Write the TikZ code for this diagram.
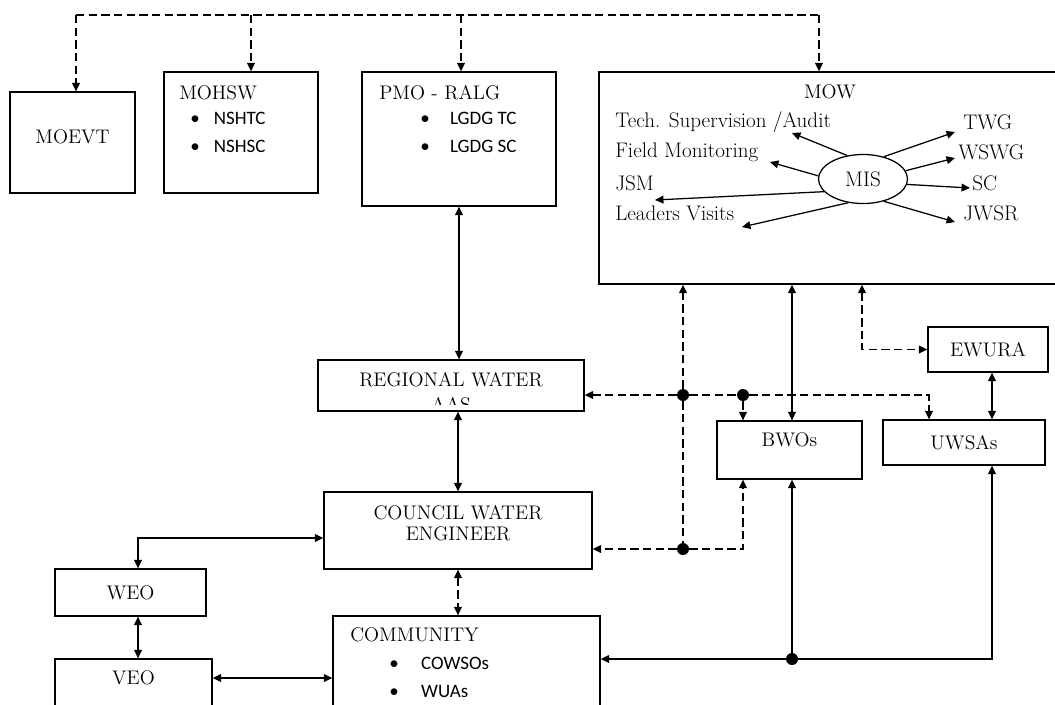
\documentclass[tikz,border=0pt]{standalone}
\usepackage{fontspec}
\newfontfamily\calibri{Carlito}
\usepackage{tikz}
\usetikzlibrary{arrows.meta, shapes.geometric, positioning, calc}

\begin{document}
\begin{tikzpicture}[x=0.025cm, y=-0.025cm,
    box/.style={draw, line width=0.9pt, inner sep=0pt},
    txt/.style={inner sep=0pt, font=\fontsize{14}{15}\selectfont, align=center},
    mtxt/.style={inner sep=0pt, anchor=west, font=\fontsize{15}{16}\selectfont},
    sml/.style={inner sep=0pt, anchor=west, align=left, font=\calibri\fontsize{13.5}{20}\selectfont},
    dot/.style={circle, fill, inner sep=0pt, minimum size=0.3cm},
    arr/.style={line width=0.9pt, -{Triangle[length=6pt,width=5.5pt]}},
    both/.style={line width=0.9pt, {Triangle[length=6pt,width=5.5pt]}-{Triangle[length=6pt,width=5.5pt]}},
    dsh/.style={line width=0.9pt, dash pattern=on 6pt off 3pt}]

    \useasboundingbox (0,0) rectangle (1055,705);

    % ministries
    \node[box, minimum width=3.125cm, minimum height=2.525cm] (moevt) at (72.5,142.5) {};
    \node[txt] (moevtlbl) at (72.5,137) {MOEVT};

    \node[box, minimum width=3.85cm, minimum height=3.025cm] (mohsw) at (241,132.5) {};
    \node[txt, anchor=west] (mohswlbl) at (179,93) {MOHSW};
    \node[sml] (mohswlist) at (190,132) {\textbullet\hspace{10pt}NSHTC\\\textbullet\hspace{10pt}NSHSC};

    \node[box, minimum width=4.85cm, minimum height=3.35cm] (pmo) at (459,139) {};
    \node[txt, anchor=west] (pmolbl) at (379,93) {PMO - RALG};
    \node[sml] (pmolist) at (420,132) {\textbullet\hspace{14.5pt}LGDG TC\\\textbullet\hspace{14.5pt}LGDG SC};

    \node[box, minimum width=11.65cm, minimum height=5.3cm] (mow) at (832,178) {};
    \node[txt] (mowlbl) at (830,92) {MOW};
    \node[draw, line width=0.9pt, ellipse, minimum width=2.225cm, minimum height=1.225cm, inner sep=0pt,
          font=\fontsize{15}{16}\selectfont] (mis) at (863,179) {MIS};

    \node[mtxt] (tech) at (615,122) {Tech. Supervision /Audit};
    \node[mtxt] (field) at (615,152) {Field Monitoring};
    \node[mtxt] (jsm) at (615,183) {JSM};
    \node[mtxt] (visits) at (615,213) {Leaders Visits};
    \node[mtxt] (twg) at (963,122) {TWG};
    \node[mtxt] (wswg) at (958,152) {WSWG};
    \node[mtxt] (sc) at (972,183) {SC};
    \node[mtxt] (jwsr) at (963,213) {JWSR};

    \coordinate (ptech) at (792,133);
    \coordinate (pfield) at (770,162);
    \coordinate (pjsm) at (655,200);
    \coordinate (pvisits) at (742,227);
    \coordinate (ptwg) at (955,132);
    \coordinate (pwswg) at (955,158);
    \coordinate (psc) at (970,188);
    \coordinate (pjwsr) at (955,222);

    \draw[arr] (mis.124) -- (ptech);
    \draw[arr] (mis.176) -- (pfield);
    \draw[arr] (mis.198) -- (pjsm);
    \draw[arr] (mis.238) -- (pvisits);
    \draw[arr] (mis.47) -- (ptwg);
    \draw[arr] (mis.11) -- (pwswg);
    \draw[arr] (mis.353) -- (psc);
    \draw[arr] (mis.313) -- (pjwsr);

    % regional and council level
    \node[box, minimum width=6.65cm, minimum height=1.275cm] (rw) at (451,385.5) {};
    \node[txt] (rwlbl) at (451,380) {REGIONAL WATER};
    \begin{scope}
        \clip (318,360) rectangle (584,404);
        \node[txt] (rwaas) at (451,405) {AAS};
    \end{scope}

    \node[box, minimum width=6.7cm, minimum height=1.925cm] (council) at (458,530.5) {};
    \node[txt] (councillbl) at (458,523) {COUNCIL WATER\\ENGINEER};

    \node[box, minimum width=3.775cm, minimum height=1.175cm, font=\fontsize{14}{15}\selectfont] (weo) at (130.5,592.5) {WEO};
    \node[box, minimum width=3.925cm, minimum height=2.3cm] (veo) at (133.5,705) {};
    \node[txt] (veolbl) at (133.5,678) {VEO};

    \node[box, minimum width=6.675cm, minimum height=3.7cm] (comm) at (466.5,690) {};
    \node[txt, anchor=west] (commlbl) at (350,635) {COMMUNITY};
    \node[sml] (commlist) at (389,677) {\textbullet\hspace{16pt}COWSOs\\\textbullet\hspace{16pt}WUAs};

    % water sector bodies
    \node[box, minimum width=3.625cm, minimum height=1.45cm] (bwos) at (789.5,450) {};
    \node[txt] (bwoslbl) at (789.5,440) {BWOs};
    \node[box, minimum width=4.05cm, minimum height=1.125cm, font=\fontsize{14}{15}\selectfont] (uwsas) at (964,442.5) {UWSAs};
    \node[box, minimum width=3cm, minimum height=1.125cm, font=\fontsize{14}{15}\selectfont] (ewura) at (988,349.5) {EWURA};

    % top dashed feed
    \coordinate (t0) at (76,15);
    \coordinate (t1) at (251,15);
    \coordinate (t2) at (461,15);
    \coordinate (t3) at (819,15);
    \draw[dsh] (t0) -- (t3);
    \foreach \c/\n in {t0/moevt, t1/mohsw, t2/pmo, t3/mow}
        \draw[arr, dsh] (\c) -- (\c |- \n.north);

    % vertical chain
    \draw[both] (pmo.south) -- (pmo.south |- rw.north);
    \draw[both] (council.north |- rw.south) -- (council.north);
    \draw[both, dsh] (council.south) -- (council.south |- comm.north);

    % ward and village
    \coordinate (cw) at (138,538);
    \draw[both] (weo.north -| cw) |- (council.west |- cw);
    \draw[both] (weo.south -| cw) -- (veo.north -| cw);
    \draw[both] (veolbl -| veo.east) -- (veolbl -| comm.west);

    % dashed network
    \node[dot] (d1) at (683,395) {};
    \node[dot] (d2) at (743,395) {};
    \node[dot] (d3) at (683,549) {};
    \node[dot] (d4) at (792,659) {};
    \coordinate (uw) at (929,395);
    \coordinate (ex) at (862,0);
    \coordinate (ux) at (992,0);

    \draw[arr, dsh] (d1) -- (d1 |- mow.south);
    \draw[arr, dsh] (d1) -- (d1 -| rw.east);
    \draw[dsh] (d1) -- (d2);
    \draw[dsh] (d1) -- (d3);
    \draw[arr, dsh] (d2) -- (d2 |- bwos.north);
    \draw[arr, dsh] (d2) -- (uw) -- (uw |- uwsas.north);
    \draw[arr, dsh] (d3) -- (d3 -| council.east);
    \draw[arr, dsh] (d3) -| (d2 |- bwos.south);
    \draw[both, dsh] (ex |- mow.south) |- (ewura.west);

    % solid links
    \draw[both] (d4 |- mow.south) -- (d4 |- bwos.north);
    \draw[both] (ux |- ewura.south) -- (ux |- uwsas.north);
    \draw[arr] (d4) -- (d4 |- bwos.south);
    \draw[arr] (d4) -- (d4 -| comm.east);
    \draw[arr] (d4) -| (ux |- uwsas.south);
\end{tikzpicture}
\end{document}
